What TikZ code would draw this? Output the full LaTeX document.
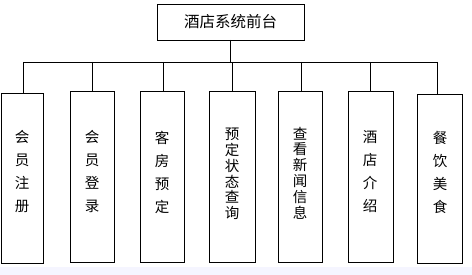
\documentclass[tikz,border=0pt]{standalone}
\usepackage{fontspec}
\newfontfamily\cjk{Noto Sans CJK SC}
\begin{document}
\begin{tikzpicture}[x=1pt,y=-1pt,
  box/.style={draw=black,line width=0.8pt,fill=white},
  conn/.style={draw=black,line width=0.8pt},
  lbl/.style={font=\cjk\fontsize{14.5}{23}\selectfont,align=center,inner sep=0pt},
  tight/.style={font=\cjk\fontsize{14.5}{15.8}\selectfont,align=center,inner sep=0pt}]
\useasboundingbox (0,0) rectangle (472,275);
\fill[white] (0,0) rectangle (472,275);
\fill[blue!4] (0,267) rectangle (472,275);
% top
\draw[box] (157,4) rectangle (304,40);
\node[font=\cjk\fontsize{15.5}{15.5}\selectfont,inner sep=0pt] (top) at (230.5,22) {酒店系统前台};
\coordinate (tb) at (230.5,40);
\coordinate (bus) at (230.5,62);
\draw[conn] (tb) -- (bus);
\coordinate (busL) at (23,62);
\coordinate (busR) at (437,62);
\draw[conn] (busL) -- (busR);
% boxes
\draw[box] (1,93) rectangle (43,263);
\draw[box] (70,91) rectangle (114,262);
\draw[box] (140,91) rectangle (184,262);
\draw[box] (209,91) rectangle (255,262);
\draw[box] (278,91) rectangle (322,262);
\draw[box] (348,91) rectangle (393,262);
\draw[box] (417,94) rectangle (462,263);
\coordinate (t1) at (23,93);
\coordinate (t2) at (92,91);
\coordinate (t3) at (163,91);
\coordinate (t4) at (232,91);
\coordinate (t5) at (301,91);
\coordinate (t6) at (370,91);
\coordinate (t7) at (437,94);
\foreach \i/\x in {1/23,2/92,3/163,4/232,5/301,6/370,7/437}{
  \coordinate (d\i) at (\x,62);
  \draw[conn] (d\i) -- (t\i);
}
\node[lbl] (n1) at (22,172) {会\\员\\注\\册};
\node[lbl] (n2) at (92,172) {会\\员\\登\\录};
\node[lbl] (n3) at (162,172) {客\\房\\预\\定};
\node[tight] (n4) at (232,174) {预\\定\\状\\态\\查\\询};
\node[tight] (n5) at (300,173) {查\\看\\新\\闻\\信\\息};
\node[lbl] (n6) at (370,172) {酒\\店\\介\\绍};
\node[lbl] (n7) at (440,172) {餐\\饮\\美\\食};
\end{tikzpicture}
\end{document}
